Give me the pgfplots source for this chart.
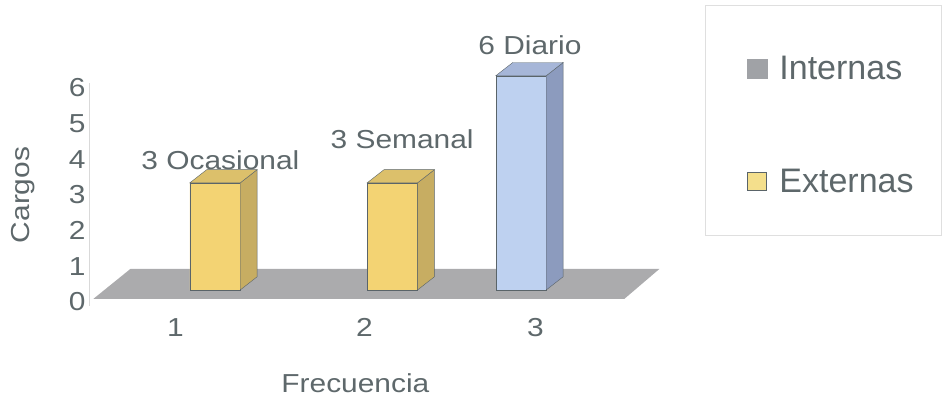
\documentclass[border=0pt]{standalone}
\usepackage{fontspec}
\setmainfont{Liberation Sans}
\newfontfamily\chartfont{Liberation Sans}[FakeStretch=1.15]
\usepackage{pgfplots}
\pgfplotsset{compat=1.18}
\definecolor{txt}{HTML}{5E686B}
\definecolor{yfront}{HTML}{F3D373}
\definecolor{yside}{HTML}{C7AD62}
\definecolor{ytop}{HTML}{DCC06B}
\definecolor{bfront}{HTML}{BED1F0}
\definecolor{bside}{HTML}{8C9BBE}
\definecolor{btop}{HTML}{A6B6D8}
\definecolor{edge}{HTML}{5A6469}
\definecolor{floor}{HTML}{ABABAD}
\definecolor{intgray}{HTML}{A0A2A6}
\definecolor{extyellow}{HTML}{F4DF8C}
\newcommand\cf{\chartfont\fontsize{26bp}{30bp}\selectfont}
\newcommand\lf{\fontsize{34bp}{38bp}\selectfont}
\begin{document}
\begin{tikzpicture}
\begin{axis}[
  name=ax,
  scale only axis,
  width=572.4bp, height=242.8bp,
  xmin=0.52, xmax=3.7, ymin=-0.3, ymax=6.5,
  clip=false,
  axis lines=left, axis line style={draw=none},
  xtick={1,2.05,3}, xticklabels={1,2,3},
  ytick={0,1,2,3,4,5,6},
  major tick length=0pt,
  /pgf/number format/assume math mode=true,
  ticklabel style={font=\cf, text=txt},
  xticklabel style={yshift=-14bp},
  yticklabel style={yshift=-12bp},
  xlabel={Frecuencia}, ylabel={Cargos},
  label style={font=\cf, text=txt},
  xlabel style={at={(axis cs:2.0,-2.6)}, anchor=center},
  ylabel style={at={(-0.1153,0.4353)}, anchor=center},
  legend style={at={(rel axis cs:1.1487,1.016)}, anchor=north west, draw=none, fill=none,
    font=\lf, text=txt, row sep=85bp, inner sep=0pt, nodes={inner sep=1.5bp}},
  legend cell align=left,
]
% floor
\addplot[fill=floor, draw=none, forget plot] coordinates {(0.544,-0.25) (3.494,-0.25) (3.689,0.59) (0.75,0.59)} -- cycle;
% y axis line
\draw[gray!30] (axis cs:0.52,-0.45) -- (axis cs:0.52,5.8);
% bars: front faces
\addplot[ybar, bar width=0.28, bar shift=0pt, fill=yfront, draw=edge, forget plot] coordinates {(1.22,3) (2.205,3)};
\addplot[ybar, bar width=0.28, bar shift=0pt, fill=bfront, draw=edge, forget plot] coordinates {(2.92,6)};
% side and top faces
\addplot[fill=yside, draw=edge, forget plot] coordinates {(1.36,0) (1.454,0.37) (1.454,3.37) (1.36,3)} -- cycle;
\addplot[fill=ytop, draw=edge, forget plot] coordinates {(1.08,3) (1.36,3) (1.454,3.37) (1.174,3.37)} -- cycle;
\addplot[fill=yside, draw=edge, forget plot] coordinates {(2.345,0) (2.439,0.37) (2.439,3.37) (2.345,3)} -- cycle;
\addplot[fill=ytop, draw=edge, forget plot] coordinates {(2.065,3) (2.345,3) (2.439,3.37) (2.159,3.37)} -- cycle;
\addplot[fill=bside, draw=edge, forget plot] coordinates {(3.06,0) (3.154,0.37) (3.154,6.37) (3.06,6)} -- cycle;
\addplot[fill=btop, draw=edge, forget plot] coordinates {(2.78,6) (3.06,6) (3.154,6.37) (2.874,6.37)} -- cycle;
% data labels
\node[font=\cf, text=txt] at (axis cs:1.25,3.64) {3 Ocasional};
\node[font=\cf, text=txt] at (axis cs:2.26,4.23) {3 Semanal};
\node[font=\cf, text=txt] at (axis cs:2.97,6.86) {6 Diario};
% legend
\addlegendimage{legend image code/.code={\path[draw=none,fill=none] (0bp,0bp) -- (31bp,0bp); \fill[intgray] (0bp,-10bp) rectangle (20bp,9bp);}}
\addlegendentry{Internas}
\addlegendimage{legend image code/.code={\path[draw=none,fill=none] (0bp,0bp) -- (31bp,0bp); \draw[fill=extyellow, draw=edge, line width=1.2bp] (0.6bp,-9.4bp) rectangle (19.4bp,8.4bp);}}
\addlegendentry{Externas}
\draw[gray!25] (rel axis cs:1.0762,0.2706) rectangle (rel axis cs:1.489,1.2179);
\end{axis}
\pgfresetboundingbox
\path[use as bounding box] ([xshift=-89bp,yshift=-98.3bp]ax.south west) rectangle ++(943bp,399bp);
\end{tikzpicture}
\end{document}
